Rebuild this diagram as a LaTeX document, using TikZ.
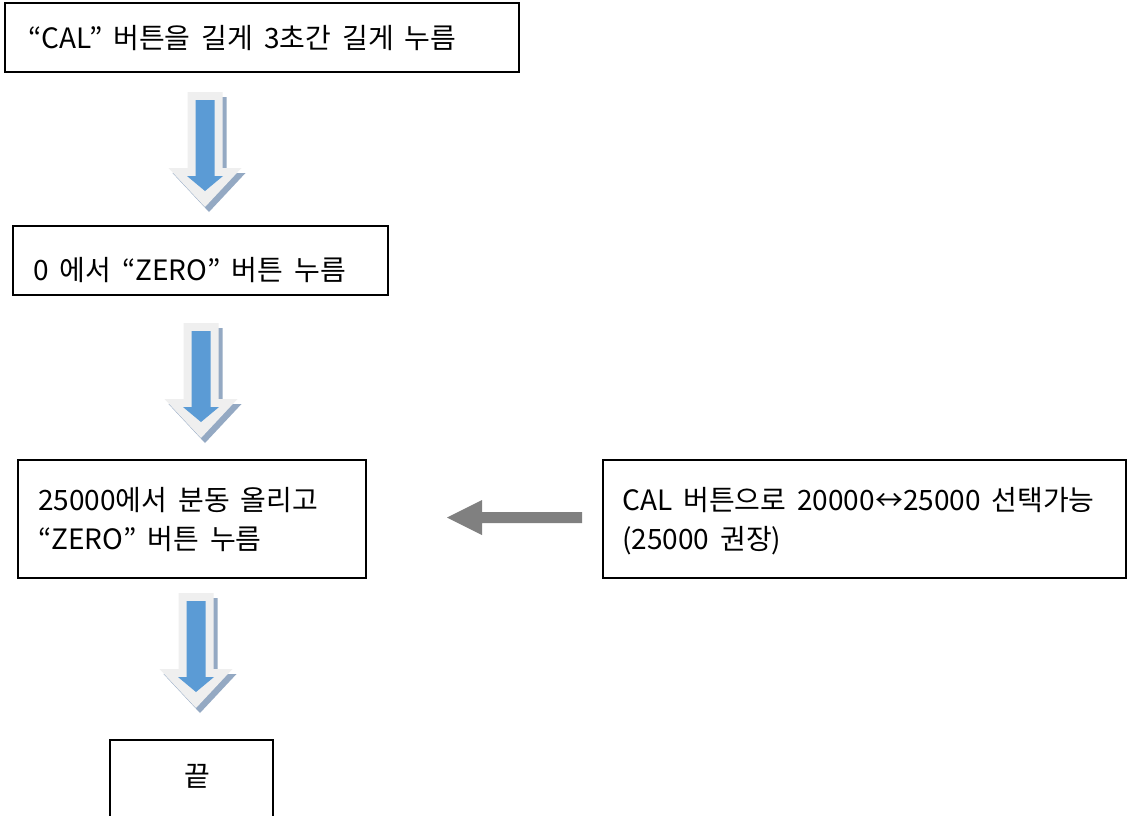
\documentclass[tikz,border=0pt]{standalone}
\usepackage{fontspec}
\setmainfont{Noto Sans CJK KR}
\definecolor{bluec}{HTML}{5B9BD5}
\definecolor{lightc}{HTML}{EFEFEF}
\definecolor{shadowc}{HTML}{94A9C3}
\definecolor{grayc}{HTML}{808080}
\newcommand\boxfont{\fontsize{28}{39}\selectfont\spaceskip=11pt\relax}
\begin{document}
\begin{tikzpicture}[x=1pt,y=-1pt,
  box/.style={draw=black,line width=1.6pt,fill=white},
  txt/.style={anchor=base west,inner sep=0pt,font=\boxfont},
  downarrow/.pic={
    \fill[shadowc] (-13.5,5) -- (21.5,5) -- (21.5,81) -- (40.5,81) -- (4,120) -- (-32.5,81) -- (-13.5,81) -- cycle;
    \fill[lightc] (-17.5,0) -- (17.5,0) -- (17.5,76) -- (36.5,76) -- (0,115) -- (-36.5,76) -- (-17.5,76) -- cycle;
    \fill[bluec] (-9.5,8) -- (9.5,8) -- (9.5,84) -- (18,84) -- (0,99) -- (-18,84) -- (-9.5,84) -- cycle;
  }]
\useasboundingbox (0,0) rectangle (1128,815);
\clip (0,0) rectangle (1128,815);
\fill[white] (0,0) rectangle (1128,815);

% boxes
\draw[box] (5,3) rectangle (519,72);
\draw[box] (13,226) rectangle (388,295);
\draw[box] (18,460) rectangle (366,578);
\draw[box] (603,460) rectangle (1126,578);
\draw[box] (110,740) rectangle (273,840);

% texts
\node[txt] (t1) at (28,48) {“CAL” 버튼을 길게 3초간 길게 누름};
\node[txt] (t2) at (33,280) {0 에서 “ZERO” 버튼 누름};
\node[txt] (t3a) at (38,510) {25000에서 분동 올리고};
\node[txt] (t3b) at (38,549) {“ZERO” 버튼 누름};
\node[txt] (t4a) at (622,510) {CAL 버튼으로 20000↔25000 선택가능};
\node[txt] (t4b) at (622,549) {(25000 권장)};
\node[txt,anchor=base] (t5) at (197,786) {끝};

% block arrows
\pic at (205,92) {downarrow};
\pic at (201,323) {downarrow};
\pic at (196,593) {downarrow};

% gray left arrow
\fill[grayc] (582,512) -- (482,512) -- (482,500) -- (447,517.5) -- (482,535) -- (482,523) -- (582,523) -- cycle;
\end{tikzpicture}
\end{document}
